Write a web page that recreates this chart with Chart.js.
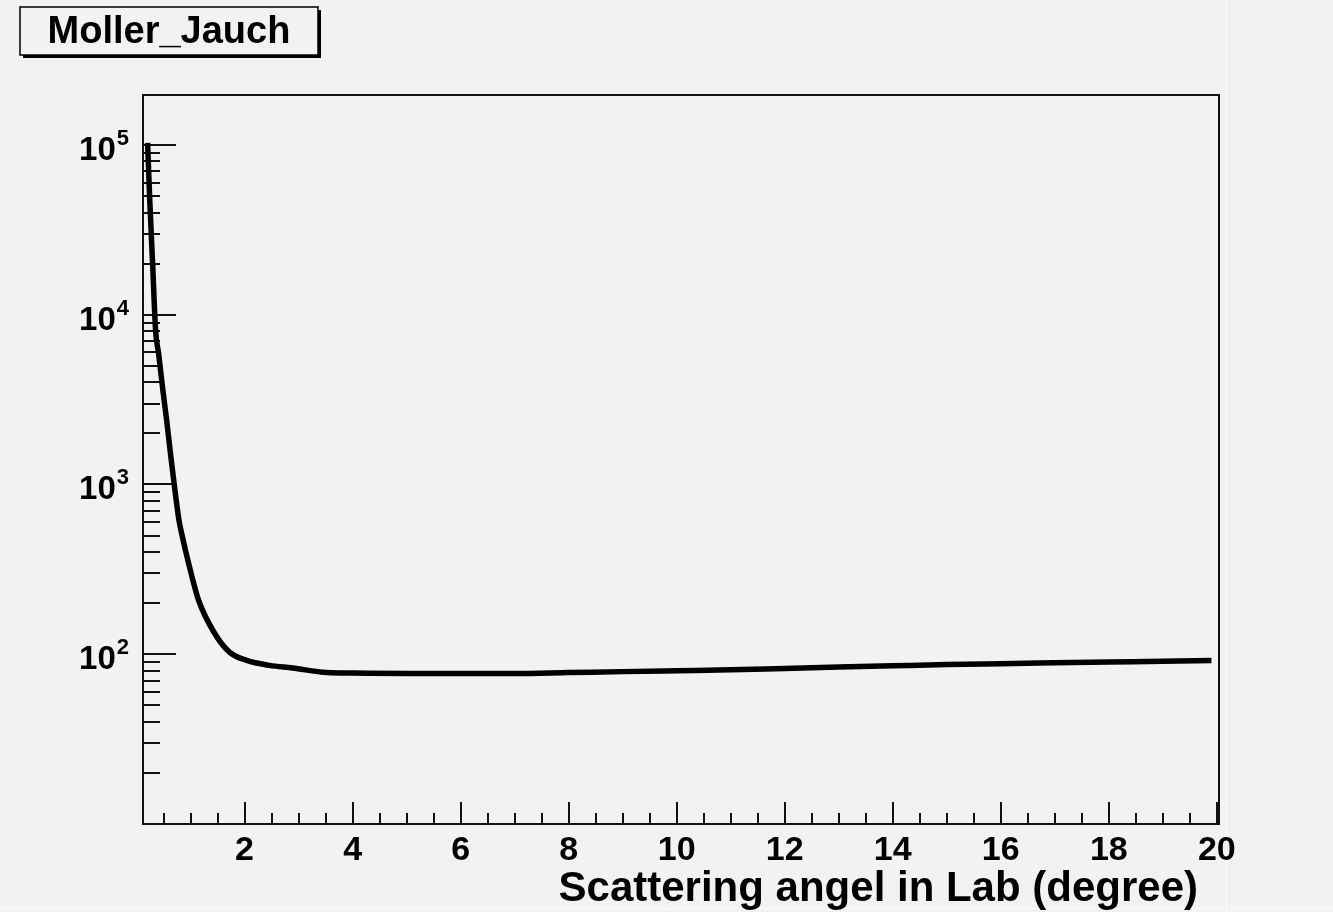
<!DOCTYPE html>
<html>
<head>
<meta charset="utf-8">
<title>Moller_Jauch</title>
<script src="https://cdn.jsdelivr.net/npm/chart.js@4"></script>
<style>
  html, body { margin: 0; padding: 0; background: #f2f2f2; }
  canvas { display: block; }
</style>
</head>
<body>
<canvas id="mollerChart" width="1333" height="912"></canvas>
<script>
// scattering angle (degree) and cross section
const angles = [0.206, 0.243, 0.298, 0.354, 0.409, 0.483, 0.557, 0.631, 0.705, 0.788,
  0.835, 0.983, 1.149, 1.445, 1.72, 2.04, 2.46, 2.89, 3.52, 4, 5, 6, 7, 8, 9, 10,
  11, 12, 13, 14, 15, 16, 17, 18, 19, 19.9];
const crossSection = [103000, 49000, 20000, 8000, 5900, 3700, 2400, 1500, 960, 610,
  515, 325, 208, 133, 103, 92, 86, 83, 78, 77.5, 77, 77, 77, 78, 79, 80,
  81, 82.5, 84, 85.5, 87, 88, 89, 90, 91, 92];

const xLabels = [2, 4, 6, 8, 10, 12, 14, 16, 18, 20];
const yDecades = [2, 3, 4, 5];
const titleText = "Moller_Jauch";
const xTitle = "Scattering angel in Lab (degree)";

const FONT = '"Liberation Sans", Arial, sans-serif';

const points = angles.map(function (a, i) { return { x: a, y: crossSection[i] }; });

// ROOT style frame, inward ticks and labels
const rootFrame = {
  id: "rootFrame",
  beforeDraw: function (chart) {
    const ctx = chart.ctx;
    // faint canvas edge lines
    ctx.save();
    ctx.strokeStyle = "#ffffff";
    ctx.lineWidth = 1;
    ctx.beginPath();
    ctx.moveTo(1226.5, 0);
    ctx.lineTo(1226.5, 912);
    ctx.moveTo(0, 908.5);
    ctx.lineTo(1333, 908.5);
    ctx.stroke();
    ctx.restore();
  },
  beforeDatasetsDraw: function (chart) {
    const ctx = chart.ctx;
    const area = chart.chartArea;
    const xs = chart.scales.x;
    const ys = chart.scales.y;
    ctx.save();
    ctx.fillStyle = "#f2f2f2";
    ctx.fillRect(area.left, area.top, area.right - area.left, area.bottom - area.top);
    ctx.strokeStyle = "#111";
    ctx.lineWidth = 2;
    ctx.strokeRect(area.left, area.top, area.right - area.left, area.bottom - area.top);

    // x ticks every 0.5, major at even numbers
    for (let v = 0.5; v <= 20.001; v += 0.5) {
      const px = Math.round(xs.getPixelForValue(v));
      const major = Math.abs(v / 2 - Math.round(v / 2)) < 1e-6;
      const len = major ? 22 : 11;
      ctx.beginPath();
      ctx.moveTo(px, area.bottom);
      ctx.lineTo(px, area.bottom - len);
      ctx.stroke();
    }

    // y ticks, log decades 10 .. 10^5
    for (let d = 1; d <= 5; d++) {
      for (let m = 1; m <= 9; m++) {
        const val = m * Math.pow(10, d);
        if (val <= ys.min || val >= ys.max) continue;
        const py = Math.round(ys.getPixelForValue(val));
        const len = m === 1 ? 33 : 17;
        ctx.beginPath();
        ctx.moveTo(area.left, py);
        ctx.lineTo(area.left + len, py);
        ctx.stroke();
      }
    }
    ctx.restore();
  },
  afterDraw: function (chart) {
    const ctx = chart.ctx;
    const xs = chart.scales.x;
    const ys = chart.scales.y;
    ctx.save();
    ctx.fillStyle = "#000";

    // x labels
    ctx.font = "bold 34px " + FONT;
    ctx.textAlign = "center";
    ctx.textBaseline = "alphabetic";
    xLabels.forEach(function (v) {
      ctx.fillText(String(v), xs.getPixelForValue(v), 860);
    });

    // x title, right aligned
    ctx.font = "bold 42px " + FONT;
    ctx.textAlign = "right";
    ctx.fillText(xTitle, 1198, 901);

    // y labels 10^n
    yDecades.forEach(function (n) {
      const py = ys.getPixelForValue(Math.pow(10, n));
      ctx.font = "bold 22px " + FONT;
      ctx.textAlign = "right";
      ctx.fillText(String(n), 129, py);
      const ew = ctx.measureText(String(n)).width;
      ctx.font = "bold 33px " + FONT;
      ctx.fillText("10", 129 - ew - 1, py + 15);
    });

    // title box with shadow
    ctx.fillStyle = "#000";
    ctx.fillRect(23, 10, 298, 48);
    ctx.fillStyle = "#f2f2f2";
    ctx.fillRect(20, 7, 298, 48);
    ctx.strokeStyle = "#000";
    ctx.lineWidth = 1.5;
    ctx.strokeRect(20, 7, 298, 48);
    ctx.fillStyle = "#000";
    ctx.font = "bold 38px " + FONT;
    ctx.textAlign = "center";
    ctx.fillText(titleText, 169, 43);
    ctx.restore();
  }
};

const config = {
  type: "line",
  data: {
    datasets: [
      {
        label: titleText,
        data: points,
        borderColor: "#000",
        borderWidth: 5.5,
        pointRadius: 0,
        cubicInterpolationMode: "monotone",
        fill: false,
      },
    ],
  },
  options: {
    responsive: false,
    animation: false,
    layout: {
      padding: { left: 143, top: 95, right: 114, bottom: 88 },
    },
    scales: {
      x: {
        type: "linear",
        min: 0.12,
        max: 20.04,
        display: false,
      },
      y: {
        type: "logarithmic",
        min: 10,
        max: 197000,
        display: false,
      },
    },
    plugins: {
      legend: { display: false },
      tooltip: { enabled: false },
    },
  },
  plugins: [rootFrame],
};

new Chart(document.getElementById("mollerChart"), config);
</script>
</body>
</html>
